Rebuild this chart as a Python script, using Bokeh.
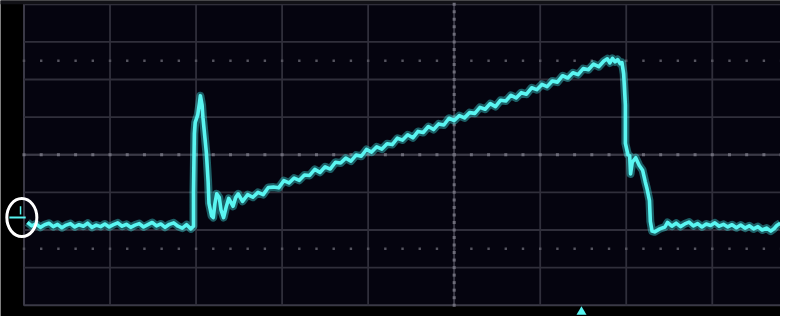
import numpy as np
from bokeh.plotting import figure
from bokeh.models import ColumnDataSource
from bokeh.embed import file_html
from bokeh.resources import INLINE

# ---- data (divisions: x = horizontal div, y = vertical div, 0 = screen centre) ----
base_pre_t = [0.04, 0.09, 0.14, 0.19, 0.24, 0.29, 0.34, 0.39, 0.44, 0.49, 0.54, 0.59, 0.64,
              0.69, 0.74, 0.79, 0.84, 0.89, 0.94, 0.99, 1.04, 1.09, 1.14, 1.19, 1.24, 1.29,
              1.34, 1.39, 1.44, 1.49, 1.54, 1.59, 1.64, 1.69, 1.74, 1.79, 1.84, 1.89, 1.94]
base_pre_v = [-1.80, -1.89, -1.84, -1.93, -1.86, -1.82, -1.91, -1.85, -1.94, -1.87, -1.83, -1.92, -1.86,
              -1.90, -1.82, -1.93, -1.87, -1.91, -1.84, -1.92, -1.86, -1.81, -1.90, -1.85, -1.93, -1.87,
              -1.83, -1.92, -1.86, -1.80, -1.89, -1.84, -1.93, -1.85, -1.81, -1.90, -1.95, -1.86, -1.97]

spike_t = [1.97, 1.97, 1.98, 1.99, 2.02, 2.04, 2.05, 2.07, 2.08, 2.12, 2.14, 2.15, 2.18, 2.20,
           2.22, 2.24, 2.27, 2.29, 2.32, 2.35, 2.38, 2.43, 2.46, 2.49, 2.54]
spike_v = [-1.90, -0.96, 0.56, 0.86, 1.06, 1.39, 1.57, 1.32, 0.99, 0.05, -0.71, -1.29, -1.62, -1.67,
           -1.29, -1.04, -1.14, -1.47, -1.67, -1.39, -1.16, -1.37, -1.14, -1.04, -1.24]

ramp_t = [2.60, 2.66, 2.72, 2.78, 2.84, 2.90, 2.96, 3.02, 3.08, 3.14, 3.20, 3.26, 3.32, 3.38,
          3.44, 3.50, 3.56, 3.62, 3.68, 3.74, 3.80, 3.86, 3.92, 3.98, 4.04, 4.10, 4.16, 4.22,
          4.28, 4.34, 4.40, 4.46, 4.52, 4.58, 4.64, 4.70, 4.76, 4.82, 4.88, 4.94, 5.00, 5.06,
          5.12, 5.18, 5.24, 5.30, 5.36, 5.42, 5.48, 5.54, 5.60, 5.66, 5.72, 5.78, 5.84, 5.90,
          5.96, 6.02, 6.08, 6.14, 6.20, 6.26, 6.32, 6.38, 6.44, 6.50, 6.56, 6.62, 6.68, 6.74]
ramp_v = [-1.06, -1.13, -1.00, -1.06, -0.87, -0.86, -0.88, -0.69, -0.75, -0.62, -0.68, -0.54, -0.55, -0.39,
          -0.47, -0.32, -0.38, -0.20, -0.22, -0.09, -0.17, -0.01, -0.04, 0.14, 0.07, 0.21, 0.15, 0.29,
          0.27, 0.44, 0.39, 0.53, 0.45, 0.62, 0.59, 0.75, 0.67, 0.82, 0.79, 0.97, 0.91, 1.04,
          0.98, 1.12, 1.10, 1.26, 1.21, 1.36, 1.28, 1.45, 1.43, 1.58, 1.51, 1.65, 1.61, 1.78,
          1.73, 1.87, 1.81, 1.96, 1.93, 2.10, 2.04, 2.18, 2.13, 2.29, 2.26, 2.41, 2.34, 2.49]

fall_t = [6.78, 6.81, 6.84, 6.87, 6.90, 6.93, 6.95, 6.97, 6.99, 6.99, 7.02, 7.04, 7.05, 7.07,
          7.11, 7.15, 7.19, 7.22, 7.24, 7.27, 7.28, 7.30, 7.33, 7.39, 7.45]
fall_v = [2.55, 2.44, 2.56, 2.47, 2.53, 2.42, 2.45, 2.15, 1.32, 0.30, 0.00, -0.03, -0.51, -0.20,
          -0.08, -0.28, -0.41, -0.71, -0.89, -1.22, -1.77, -2.03, -2.05, -1.97, -1.92]

base_post_t = [7.48, 7.53, 7.58, 7.63, 7.68, 7.73, 7.78, 7.83, 7.88, 7.93, 7.98, 8.03, 8.08, 8.13,
               8.18, 8.23, 8.28, 8.33, 8.38, 8.43, 8.48, 8.53, 8.58, 8.63, 8.68, 8.72, 8.75, 8.79]
base_post_v = [-1.80, -1.90, -1.82, -1.91, -1.84, -1.79, -1.89, -1.83, -1.92, -1.84, -1.88, -1.81, -1.90, -1.85,
               -1.92, -1.86, -1.94, -1.87, -1.95, -1.89, -1.97, -1.91, -2.00, -1.95, -2.03, -1.96, -1.88, -1.82]

ground_level = -1.67      # channel-1 ground marker (div)
trigger_pos = 6.48        # trigger position marker (div)
h_divs = 10
v_divs = 8

t = base_pre_t + spike_t + ramp_t + fall_t + base_post_t
v = base_pre_v + spike_v + ramp_v + fall_v + base_post_v
src = ColumnDataSource(dict(t=t, v=v))

p = figure(width=780, height=316, output_backend="svg", toolbar_location=None,
           x_range=(-0.273, 8.793), y_range=(-4.30, 4.10),
           min_border=0, min_border_left=0, min_border_right=0,
           min_border_top=0, min_border_bottom=0)
p.axis.visible = False
p.grid.visible = False
p.outline_line_color = None
p.background_fill_color = "#000000"
p.border_fill_color = "#000000"

# screen area
p.quad(left=[0], right=[h_divs], bottom=[-v_divs / 2], top=[v_divs / 2],
       fill_color="#05040f", line_color="#3a3946", line_width=2)
# top dark strip
p.quad(left=[-0.3], right=[h_divs], bottom=[v_divs / 2], top=[4.2],
       fill_color="#111116", line_color=None)

# grid lines
gx = [float(i) for i in range(1, h_divs)]
gy = [float(j) for j in range(-v_divs // 2 + 1, v_divs // 2)]
p.segment(x0=gx, y0=[-4] * len(gx), x1=gx, y1=[4] * len(gx), line_color="#302f3b", line_width=1.8)
p.segment(x0=[0] * len(gy), y0=gy, x1=[h_divs] * len(gy), y1=gy, line_color="#302f3b", line_width=1.8)

# dotted centre graticule and +-2.5 div rows
dx = np.arange(0, h_divs + 0.001, 0.2)
for yy in (2.5, -2.5):
    p.scatter(dx, [yy] * len(dx), marker="square", size=2.4, fill_color="#55545f", line_color=None)
p.segment(x0=[5.0], y0=[-4], x1=[5.0], y1=[4], line_color="#3a3946", line_width=1.8)
p.segment(x0=[0], y0=[0], x1=[h_divs], y1=[0], line_color="#3a3946", line_width=1.8)
p.scatter(dx, [0.0] * len(dx), marker="square", size=3, fill_color="#6e6d7a", line_color=None)
dy = np.arange(-4, 4.001, 0.2)
p.scatter([5.0] * len(dy), dy, marker="square", size=3, fill_color="#6e6d7a", line_color=None)

# trace (glow + core)
p.line("t", "v", source=src, line_color="#3fe6e6", line_width=8, line_alpha=0.4, line_join="round")
p.line("t", "v", source=src, line_color="#5af5f1", line_width=3.6, line_join="round")

# ground marker
p.segment(x0=[-0.17], y0=[ground_level], x1=[0.02], y1=[ground_level], line_color="#56f4f0", line_width=2)
p.segment(x0=[-0.04], y0=[ground_level + 0.08], x1=[-0.04], y1=[ground_level + 0.30],
          line_color="#56f4f0", line_width=1.5)
p.ellipse(x=[-0.025], y=[ground_level], width=30, height=38, width_units="screen",
          height_units="screen", fill_color=None, line_color="#ffffff", line_width=3)

# trigger position marker
p.scatter([trigger_pos], [-4.18], marker="triangle", size=10, fill_color="#56f4f0", line_color=None)

open("out.html", "w").write(file_html(p, INLINE))
